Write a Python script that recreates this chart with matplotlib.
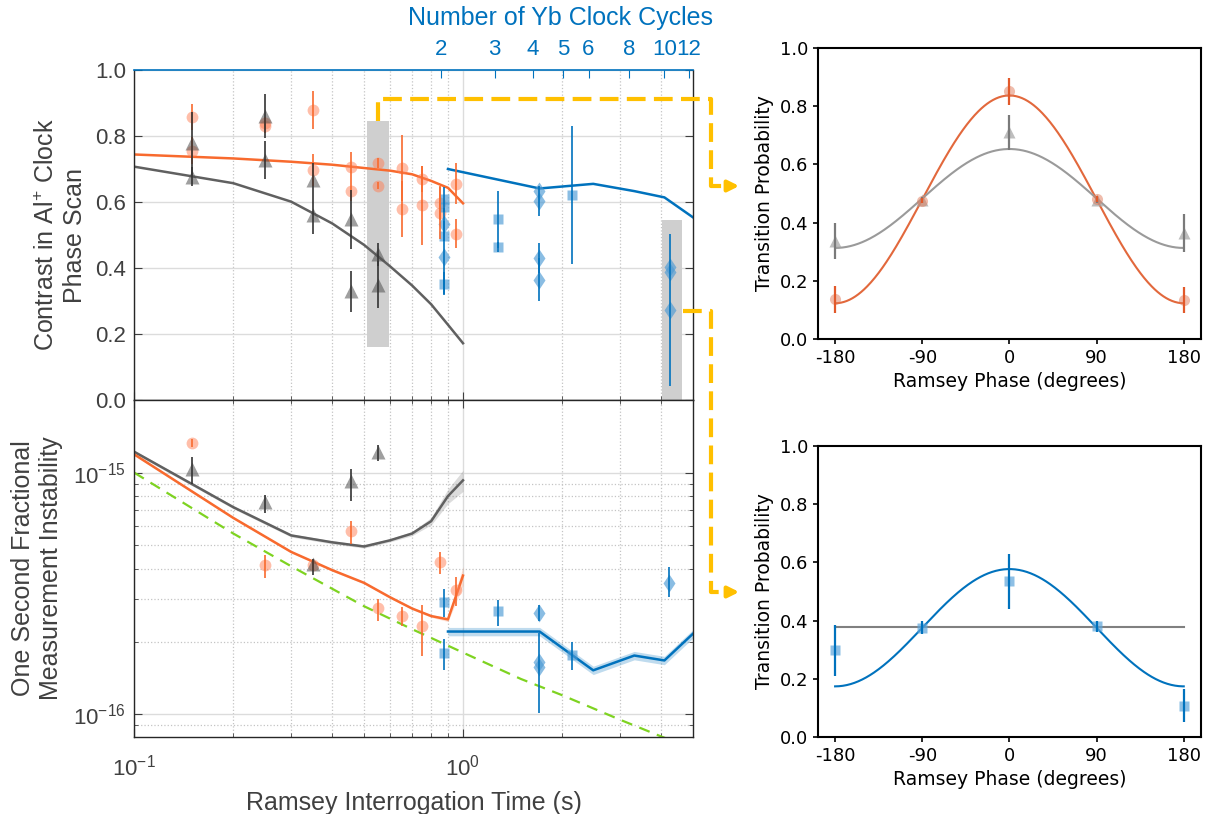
import matplotlib.pyplot as plt
import numpy as np
from matplotlib.lines import Line2D
from matplotlib.patches import FancyArrowPatch, Rectangle
from matplotlib.ticker import FixedLocator, FormatStrFormatter, NullFormatter, NullLocator

plt.rcParams['font.family'] = ['Liberation Sans', 'DejaVu Sans']
plt.rcParams['mathtext.fontset'] = 'custom'
plt.rcParams['mathtext.rm'] = 'Liberation Sans'
plt.rcParams['mathtext.it'] = 'Liberation Sans:italic'
plt.rcParams['mathtext.bf'] = 'Liberation Sans:bold'
plt.rcParams['axes.unicode_minus'] = False

W_PX, H_PX = 1206, 814

# colours
ORANGE = '#F86A2E'
ORANGE_PT = '#FF7F55'
GREY = '#606060'
GREY_PT = '#505050'
BLUE = '#0072BD'
BLUE_PT = '#4C9AD4'
GREEN = '#7ED321'
GOLD = '#FFC000'
TXT = '#404040'

###########################|model curves (left)|####################################
t_model = [0.1, 0.2, 0.3, 0.4, 0.5, 0.6, 0.7, 0.8, 0.9, 1.0]
orange_contrast_model = [0.744, 0.732, 0.722, 0.713, 0.703, 0.695, 0.684, 0.664, 0.643, 0.596]
grey_contrast_model = [0.707, 0.657, 0.601, 0.535, 0.470, 0.405, 0.347, 0.290, 0.228, 0.172]
orange_instab_model = [1.19e-15, 6.5e-16, 4.7e-16, 3.95e-16, 3.5e-16, 3.05e-16, 2.74e-16, 2.55e-16, 2.47e-16, 3.75e-16]
grey_instab_model = [1.22e-15, 7.2e-16, 5.5e-16, 5.15e-16, 4.95e-16, 5.25e-16, 5.6e-16, 6.3e-16, 8.0e-16, 9.3e-16]
orange_band = [0.01, 0.01, 0.01, 0.01, 0.01, 0.01, 0.01, 0.012, 0.02, 0.09]
grey_band = [0.015, 0.015, 0.015, 0.015, 0.015, 0.015, 0.02, 0.035, 0.07, 0.10]

t_yb_model = [0.9, 1.71, 2.49, 3.32, 4.1, 5.0]
blue_contrast_model = [0.700, 0.641, 0.655, 0.633, 0.614, 0.554]
blue_instab_model = [2.2e-16, 2.2e-16, 1.52e-16, 1.75e-16, 1.67e-16, 2.15e-16]
blue_band = [0.04, 0.04, 0.04, 0.04, 0.04, 0.04]

qpn_t = [0.1, 0.2, 0.3, 0.5, 0.7, 1.0, 1.5, 2.0, 3.0, 4.0, 4.4]
qpn_instab = [1.0e-15, 5.6e-16, 4.1e-16, 2.8e-16, 2.25e-16, 1.8e-16, 1.4e-16, 1.2e-16, 9.5e-17, 8.1e-17, 7.7e-17]

###########################|measured contrast|####################################
orange_t = [0.15, 0.15, 0.25, 0.25, 0.35, 0.35, 0.455, 0.455, 0.55, 0.55,
            0.65, 0.65, 0.75, 0.75, 0.85, 0.85, 0.95, 0.95]
orange_c = [0.857, 0.756, 0.838, 0.830, 0.879, 0.697, 0.707, 0.632, 0.719, 0.650,
            0.704, 0.580, 0.669, 0.590, 0.596, 0.567, 0.656, 0.504]
orange_c_err = [0.04, 0.04, 0.02, 0.02, 0.057, 0.048, 0.045, 0.03, 0.015, 0.012,
                0.10, 0.085, 0.04, 0.12, 0.05, 0.08, 0.063, 0.044]

grey_t = [0.15, 0.15, 0.25, 0.25, 0.35, 0.35, 0.455, 0.455, 0.55, 0.55]
grey_c = [0.778, 0.677, 0.861, 0.727, 0.667, 0.561, 0.547, 0.329, 0.441, 0.350]
grey_c_err = [0.095, 0.03, 0.066, 0.058, 0.05, 0.058, 0.088, 0.063, 0.035, 0.07]

blue_sq_t = [0.875, 0.875, 0.875, 0.875, 1.28, 1.28, 2.14]
blue_sq_c = [0.608, 0.586, 0.496, 0.353, 0.547, 0.464, 0.621]
blue_sq_c_err = [0.038, 0.0, 0.0, 0.034, 0.087, 0.014, 0.21]
blue_di_t = [0.875, 0.875, 1.7, 1.7, 1.7, 1.7, 4.25, 4.25, 4.25]
blue_di_c = [0.532, 0.432, 0.633, 0.603, 0.431, 0.365, 0.404, 0.389, 0.273]
blue_di_c_err = [0.05, 0.11, 0.0, 0.045, 0.045, 0.066, 0.0, 0.0, 0.23]

###########################|measured instability|####################################
orange_s_t = [0.15, 0.25, 0.35, 0.455, 0.55, 0.65, 0.75, 0.85, 0.95]
orange_s = [1.33e-15, 4.15e-16, 4.15e-16, 5.74e-16, 2.76e-16, 2.54e-16, 2.33e-16, 4.26e-16, 3.27e-16]
orange_s_lo = [1.28e-15, 3.67e-16, 3.95e-16, 5.09e-16, 2.44e-16, 2.31e-16, 1.75e-16, 3.81e-16, 2.8e-16]
orange_s_hi = [1.38e-15, 4.55e-16, 4.35e-16, 6.34e-16, 3.0e-16, 2.79e-16, 2.82e-16, 4.69e-16, 3.7e-16]

grey_s_t = [0.15, 0.25, 0.35, 0.455, 0.55]
grey_s = [1.04e-15, 7.55e-16, 4.18e-16, 9.2e-16, 1.22e-15]
grey_s_lo = [9.0e-16, 6.78e-16, 3.77e-16, 7.62e-16, 1.12e-15]
grey_s_hi = [1.16e-15, 8.06e-16, 4.41e-16, 1.04e-15, 1.30e-15]

blue_sq_s_t = [0.875, 0.875, 1.28, 2.14]
blue_sq_s = [2.91e-16, 1.79e-16, 2.67e-16, 1.76e-16]
blue_sq_s_lo = [2.52e-16, 1.52e-16, 2.33e-16, 1.53e-16]
blue_sq_s_hi = [3.3e-16, 2.05e-16, 2.96e-16, 1.99e-16]
blue_di_s_t = [1.7, 1.7, 1.7, 4.22]
blue_di_s = [2.62e-16, 1.64e-16, 1.57e-16, 3.5e-16]
blue_di_s_lo = [2.44e-16, 1.01e-16, 1.57e-16, 3.07e-16]
blue_di_s_hi = [2.82e-16, 2.16e-16, 1.57e-16, 4.07e-16]

# highlighted scans
box_t = [(0.512, 0.596), (4.02, 4.64)]
box_c = [(0.162, 0.845), (0.0, 0.545)]

# Yb cycle count axis
yb_cycles = [2, 3, 4, 5, 6, 8, 10, 12]
yb_cycle_t = [0.855, 1.248, 1.635, 2.021, 2.41, 3.21, 4.10, 4.87]

###########################|Ramsey fringes (right)|####################################
phase = [-180, -90, 0, 90, 180]
fr_orange_p = [0.136, 0.476, 0.851, 0.480, 0.134]
fr_orange_err = [0.045, 0.01, 0.047, 0.01, 0.045]
fr_grey_p = [0.337, 0.478, 0.711, 0.478, 0.364]
fr_grey_err = [0.062, 0.01, 0.06, 0.01, 0.064]
fr_orange_fit = (0.480, 0.714)   # offset, contrast
fr_grey_fit = (0.483, 0.340)

fr_blue_p = [0.298, 0.376, 0.535, 0.380, 0.108]
fr_blue_err = [0.087, 0.022, 0.094, 0.02, 0.058]
fr_blue_fit = (0.3755, 0.403)
fr_flat_fit = (0.377, 0.0)


def px(x, y):
    return x / W_PX, 1 - y / H_PX


def pts(ax, t, v, err, marker, face, ecolor, ms, alpha=0.6, elw=1.2):
    ax.plot(t, v, ls='none', marker=marker, ms=ms, mfc=face, mec='none', alpha=alpha, zorder=3)
    ax.errorbar(t, v, yerr=err, fmt='none', ecolor=ecolor, elinewidth=elw, capsize=0, zorder=4)


def band(ax, t, v, rel, color, alpha=0.25):
    v = np.array(v)
    r = np.array(rel)
    ax.fill_between(t, v * (1 - r), v * (1 + r), color=color, alpha=alpha, lw=0, zorder=2)


fig = plt.figure(figsize=(W_PX / 100, H_PX / 100), dpi=100)
ax1 = fig.add_axes([0.1114, 0.5086, 0.463, 0.4054])
ax2 = fig.add_axes([0.1114, 0.0946, 0.463, 0.414], sharex=ax1)
axr1 = fig.add_axes([0.678, 0.5835, 0.318, 0.3575])
axr2 = fig.add_axes([0.678, 0.0946, 0.318, 0.3575])

###########################|contrast panel|####################################
for (t0, t1), (c0, c1) in zip(box_t, box_c):
    ax1.add_patch(Rectangle((t0, c0), t1 - t0, c1 - c0, color='#cfcfcf', lw=0, zorder=1.5))

ax1.plot(t_model, orange_contrast_model, color=ORANGE, lw=1.8, zorder=2.5)
ax1.plot(t_model, grey_contrast_model, color=GREY, lw=1.8, zorder=2.5)
ax1.plot(t_yb_model, blue_contrast_model, color=BLUE, lw=1.8, zorder=2.5)

pts(ax1, orange_t, orange_c, orange_c_err, 'o', ORANGE_PT, ORANGE, 8.5, 0.5)
pts(ax1, grey_t, grey_c, grey_c_err, '^', GREY_PT, '#333333', 9.5, 0.55)
pts(ax1, blue_sq_t, blue_sq_c, blue_sq_c_err, 's', BLUE_PT, BLUE, 6.5, 0.65)
pts(ax1, blue_di_t, blue_di_c, blue_di_c_err, 'd', BLUE_PT, BLUE, 9.5, 0.65)

ax1.set_xscale('log')
ax1.set_xlim(0.1, 5.0)
ax1.set_ylim(0, 1)
ax1.set_yticks(np.arange(0, 1.01, 0.2))
ax1.yaxis.set_major_formatter(FormatStrFormatter('%.1f'))
ax1.tick_params(axis='both', which='both', direction='in', colors=TXT, labelsize=16,
                left=True, right=True, top=False, bottom=True, labelbottom=False, pad=6)
ax1.tick_params(axis='both', which='major', length=6)
ax1.tick_params(axis='both', which='minor', length=3)
ax1.grid(which='major', axis='y', color='#dcdcdc', lw=1.0, ls='-')
ax1.grid(which='major', axis='x', color='#dcdcdc', lw=1.0, ls='-')
ax1.grid(which='minor', axis='x', color='#c4c4c4', lw=0.9, ls=':')
ax1.set_axisbelow(True)
for s in ax1.spines.values():
    s.set_color('#262626')
    s.set_linewidth(1.0)
ax1.spines['top'].set_visible(False)
ax1.set_ylabel('Contrast in Al$^{+}$ Clock\nPhase Scan', fontsize=18, color=TXT)
ax1.yaxis.set_label_coords(-0.085, 0.5)

# top axis: number of Yb clock cycles
ax_top = ax1.twiny()
ax_top.set_xscale('log')
ax_top.set_xlim(ax1.get_xlim())
ax_top.xaxis.set_major_locator(FixedLocator(yb_cycle_t))
ax_top.xaxis.set_minor_locator(NullLocator())
ax_top.set_xticklabels([str(n) for n in yb_cycles])
ax_top.tick_params(axis='x', direction='in', colors=BLUE, labelsize=16, length=6, pad=7)
for side in ['left', 'right', 'bottom']:
    ax_top.spines[side].set_visible(False)
ax_top.spines['top'].set_color(BLUE)
ax_top.spines['top'].set_linewidth(1.2)
fig.text(*px(560, 18), 'Number of Yb Clock Cycles', color=BLUE, fontsize=18,
         ha='center', va='center')

###########################|instability panel|####################################
band(ax2, t_model, grey_instab_model, grey_band, GREY, 0.22)
band(ax2, t_model, orange_instab_model, orange_band, ORANGE, 0.22)
band(ax2, t_yb_model, blue_instab_model, blue_band, BLUE, 0.25)
ax2.plot(t_model, grey_instab_model, color=GREY, lw=1.8, zorder=2.5)
ax2.plot(t_model, orange_instab_model, color=ORANGE, lw=1.8, zorder=2.5)
ax2.plot(t_yb_model, blue_instab_model, color=BLUE, lw=1.8, zorder=2.5)
ax2.plot(qpn_t, qpn_instab, color=GREEN, lw=1.6, ls=(0, (5, 3.5)), zorder=2.5)


def asym(v, lo, hi):
    v = np.array(v)
    return [v - np.array(lo), np.array(hi) - v]


pts(ax2, orange_s_t, orange_s, asym(orange_s, orange_s_lo, orange_s_hi), 'o', ORANGE_PT, ORANGE, 8.5, 0.5)
pts(ax2, grey_s_t, grey_s, asym(grey_s, grey_s_lo, grey_s_hi), '^', GREY_PT, '#333333', 9.5, 0.55)
pts(ax2, blue_sq_s_t, blue_sq_s, asym(blue_sq_s, blue_sq_s_lo, blue_sq_s_hi), 's', BLUE_PT, BLUE, 6.5, 0.65)
pts(ax2, blue_di_s_t, blue_di_s, asym(blue_di_s, blue_di_s_lo, blue_di_s_hi), 'd', BLUE_PT, BLUE, 9.5, 0.65)

ax2.set_yscale('log')
ax2.set_ylim(8.05e-17, 2.0e-15)
ax2.set_xlim(0.1, 5.0)
ax2.yaxis.set_major_locator(FixedLocator([1e-16, 1e-15]))
ax2.xaxis.set_major_locator(FixedLocator([0.1, 1.0]))
ax2.yaxis.set_minor_locator(FixedLocator([9e-17] + [k * 1e-16 for k in range(2, 10)]))
ax2.xaxis.set_minor_locator(FixedLocator([k * 0.1 for k in range(2, 10)] + [2.0, 3.0, 4.0]))
ax2.yaxis.set_minor_formatter(NullFormatter())
ax2.xaxis.set_minor_formatter(NullFormatter())
ax2.tick_params(axis='both', which='both', direction='in', colors=TXT, labelsize=16,
                left=True, right=True, top=True, bottom=True)
ax2.tick_params(axis='both', which='major', length=6)
ax2.tick_params(axis='both', which='minor', length=3)
ax2.tick_params(axis='x', which='both', pad=13)
ax2.tick_params(axis='y', which='both', pad=6)
ax2.grid(which='major', color='#dcdcdc', lw=1.0, ls='-')
ax2.grid(which='minor', color='#c4c4c4', lw=0.9, ls=':')
ax2.set_axisbelow(True)
for s in ax2.spines.values():
    s.set_color('#262626')
    s.set_linewidth(1.0)
ax2.set_ylabel('One Second Fractional\nMeasurement Instability', fontsize=18, color=TXT)
ax2.yaxis.set_label_coords(-0.128, 0.5)
ax2.set_xlabel('Ramsey Interrogation Time (s)', fontsize=18, color=TXT)
ax2.xaxis.set_label_coords(0.5, -0.16)

###########################|Ramsey fringes|####################################
phi = np.linspace(-180, 180, 361)


def fringe(ax, fit, color):
    off, con = fit
    ax.plot(phi, off + 0.5 * con * np.cos(np.radians(phi)), color=color, lw=1.5, zorder=2)


def style_right(ax):
    ax.set_xlim(-198, 198)
    ax.set_ylim(0, 1)
    ax.set_xticks(phase)
    ax.set_yticks(np.arange(0, 1.01, 0.2))
    ax.yaxis.set_major_formatter(FormatStrFormatter('%.1f'))
    ax.tick_params(labelsize=13, width=1.2)
    for s in ax.spines.values():
        s.set_linewidth(1.5)
    ax.set_xlabel('Ramsey Phase (degrees)', fontsize=13.5, family='DejaVu Sans')
    ax.set_ylabel('Transition Probability', fontsize=13.5, family='DejaVu Sans')
    for lab in ax.get_xticklabels() + ax.get_yticklabels():
        lab.set_family('DejaVu Sans')


fringe(axr1, fr_orange_fit, '#E2683C')
fringe(axr1, fr_grey_fit, '#9a9a9a')
axr1.plot(phase, fr_grey_p, ls='none', marker='^', ms=9, mfc='#a8a8a8', mec='none', alpha=0.75, zorder=3)
axr1.errorbar(phase, fr_grey_p, yerr=fr_grey_err, fmt='none', ecolor='#7a7a7a', elinewidth=1.6, capsize=0, zorder=4)
axr1.plot(phase, fr_orange_p, ls='none', marker='o', ms=8, mfc='#E07B5A', mec='none', alpha=0.5, zorder=3)
axr1.errorbar(phase, fr_orange_p, yerr=fr_orange_err, fmt='none', ecolor='#E2592A', elinewidth=1.6, capsize=0, zorder=4)
style_right(axr1)

fringe(axr2, fr_flat_fit, '#808080')
fringe(axr2, fr_blue_fit, BLUE)
axr2.plot(phase, fr_blue_p, ls='none', marker='s', ms=6.5, mfc='#5DA5DA', mec='none', alpha=0.7, zorder=3)
axr2.errorbar(phase, fr_blue_p, yerr=fr_blue_err, fmt='none', ecolor=BLUE, elinewidth=1.6, capsize=0, zorder=4)
style_right(axr2)

###########################|dashed pointers|####################################
paths = [
    [(377.5, 121), (377.5, 99), (711, 99), (711, 186), (728, 186)],
    [(683, 311), (711, 311), (711, 592), (728, 592)],
]
for path in paths:
    xs, ys = zip(*[px(x, y) for x, y in path])
    fig.add_artist(Line2D(xs, ys, color=GOLD, lw=3.0, ls=(0, (4.5, 2)),
                          transform=fig.transFigure, solid_capstyle='butt'))
    x_end, y_end = path[-1]
    fig.add_artist(FancyArrowPatch(px(x_end - 4, y_end), px(x_end + 14, y_end),
                                   arrowstyle='-|>', mutation_scale=16, color=GOLD, lw=3.0,
                                   transform=fig.transFigure))

fig.savefig('out.png', dpi=100)
